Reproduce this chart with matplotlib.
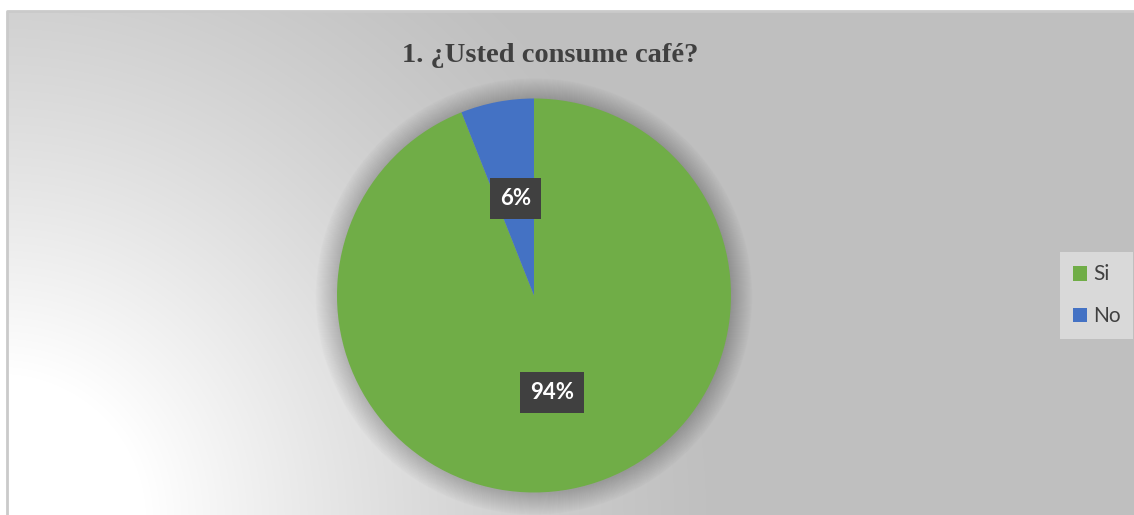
import numpy as np
import matplotlib
matplotlib.use("Agg")
import matplotlib.pyplot as plt
from matplotlib.patches import Patch, Circle
from matplotlib.lines import Line2D

# ---- data ----
title = "1. ¿Usted consume café?"
categories = ["Si", "No"]
values = [94, 6]
colors = ["#70AD47", "#4472C4"]

W, H = 1134, 515
fig = plt.figure(figsize=(W / 100, H / 100), dpi=100)
fig.patch.set_facecolor("white")

# ---- chart area background with radial gradient ----
x0, y0 = 7, 11  # chart area top-left in pixels
bg = fig.add_axes([x0 / W, 0, (W - x0) / W, (H - y0) / H])
bg.set_axis_off()
xs = np.arange(x0, W) + 0.5
ys = np.arange(y0, H) + 0.5
X, Y = np.meshgrid(xs, ys)
d = np.sqrt((X - 0) ** 2 + (Y - 520) ** 2)
t = np.clip(1.25 * (1 - d / 730), 0, 1) ** 1.3
g = (191 + 64 * t) / 255
img = np.dstack([g, g, g])
bg.imshow(img, extent=[0, 1, 0, 1], aspect="auto", origin="upper", interpolation="bilinear")
bg.set_xlim(0, 1)
bg.set_ylim(0, 1)
# border only on top and left (chart area runs off the image at right/bottom)
bg.add_line(Line2D([0, 0, 1], [0, 1, 1], transform=bg.transAxes, color="#CACACA",
                   lw=2, clip_on=False))

# ---- pie ----
cx, cy, r = 534, 295.5, 197
ax = fig.add_axes([(cx - r) / W, (H - cy - r) / H, 2 * r / W, 2 * r / H])
ax.set_axis_off()
# soft shadow
for k in range(22):
    ax.add_patch(Circle((0.0, -0.005), 1 + 0.005 * k, color="black", alpha=0.006,
                        clip_on=False, zorder=0))
wedges, texts, autotexts = ax.pie(
    values, colors=colors, startangle=90, counterclock=False,
    autopct=lambda p: f"{p:.0f}%", pctdistance=0.5, radius=1,
    wedgeprops=dict(linewidth=0),
    textprops=dict(color="white", fontsize=16, fontweight="bold",
                   family=["Lato", "DejaVu Sans"]))
for at in autotexts:
    at.set_bbox(dict(boxstyle="square,pad=0.45", fc="#404040", ec="none"))
ax.set_xlim(-1, 1)
ax.set_ylim(-1, 1)

# ---- title ----
fig.text(550 / W, 1 - 55 / H, title, ha="center", va="center",
         fontsize=20.5, fontweight="bold", color="#404040",
         family=["Liberation Serif", "DejaVu Serif"])

# ---- legend ----
handles = [Patch(facecolor=c, edgecolor="none") for c in colors]
leg = fig.legend(handles, categories, loc="upper left",
                 bbox_to_anchor=(1060 / W, 1 - 252 / H),
                 frameon=True, fancybox=False, facecolor="#D9D9D9", edgecolor="none",
                 framealpha=1, prop=dict(family=["Lato", "DejaVu Sans"], size=15),
                 labelcolor="#404040", handlelength=0.7, handleheight=0.7,
                 handletextpad=0.3, labelspacing=1.05, borderpad=0.6, borderaxespad=0)

fig.savefig("out.png", dpi=100, facecolor="white")
